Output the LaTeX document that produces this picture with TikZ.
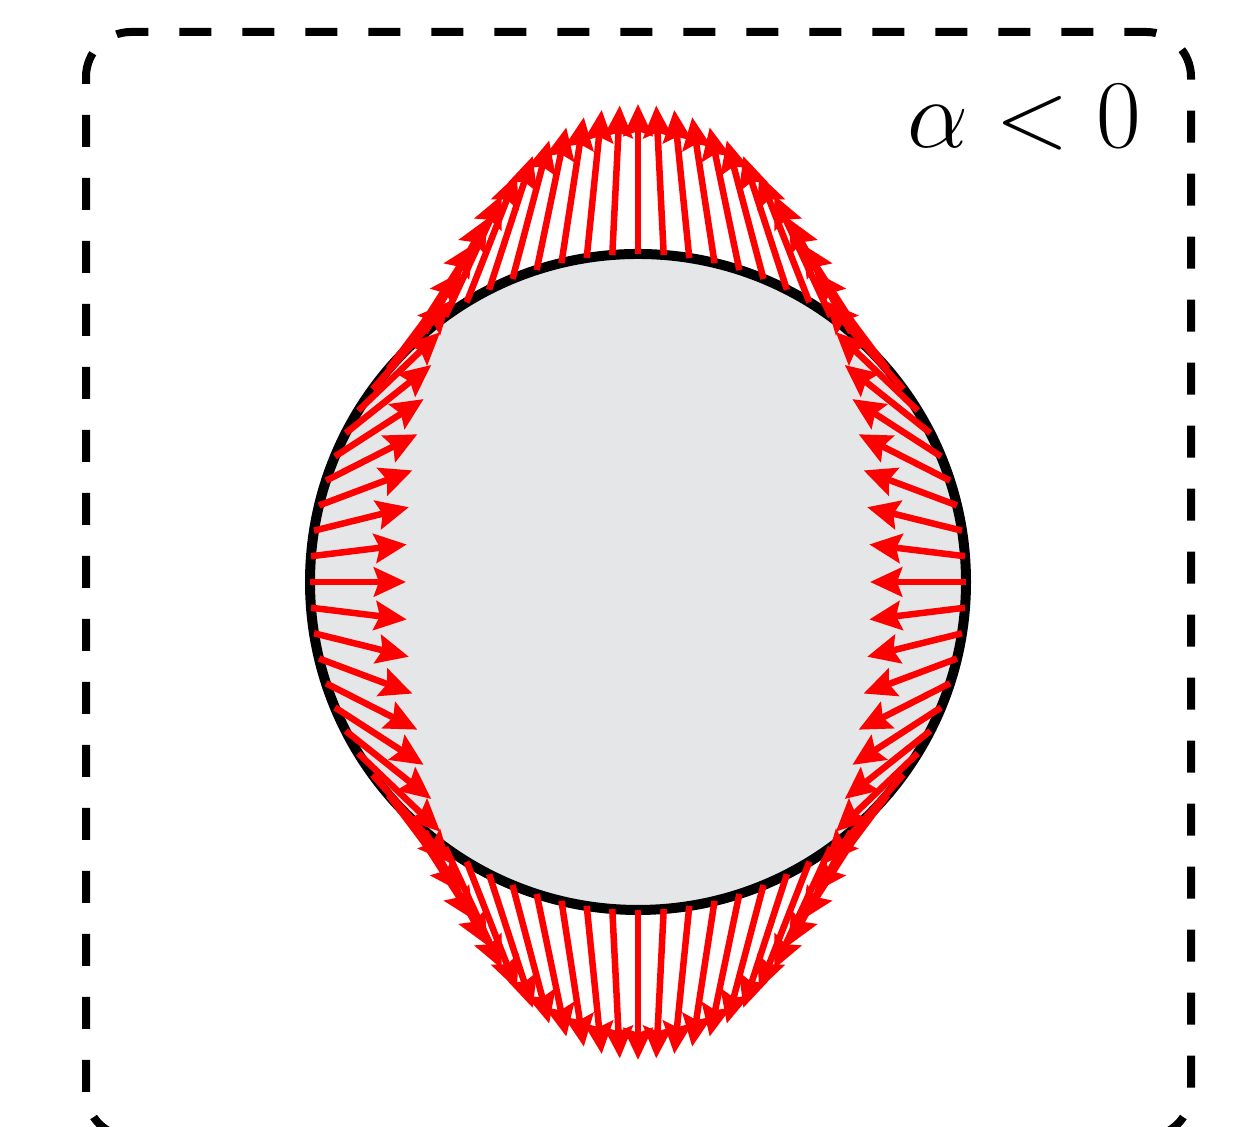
\documentclass[tikz,border=0pt]{standalone}
\usetikzlibrary{calc,arrows.meta}
\definecolor{cellgray}{RGB}{229,230,232}
\tikzset{
  frame/.style={line width=0.08cm,dash pattern=on 0.32cm off 0.31cm,rounded corners=0.45cm},
  vec/.style={red,line width=0.065cm,-{Stealth[length=0.32cm,width=0.29cm,inset=0.05cm]}}
}
\begin{document}
\begin{tikzpicture}
\useasboundingbox (0,0) rectangle (12.58,11.27);
\clip (0,0) rectangle (12.58,11.27);
\draw[frame] (0.86,-0.1) rectangle (11.91,10.95);
\coordinate (c) at (6.38,5.45);
\draw[line width=0.1cm,fill=cellgray] (c) circle (3.28);
% traction on the boundary
\foreach \t in {0,4.5,...,355.5}
  \draw[vec] ($(c)+(\t:3.28)$) -- ++({-0.96*cos(\t)},{1.5*sin(\t)});
\node[anchor=base,scale=1.11] (lab) at (10.24,9.79) {\Huge $\alpha<0$};
\end{tikzpicture}
\end{document}
